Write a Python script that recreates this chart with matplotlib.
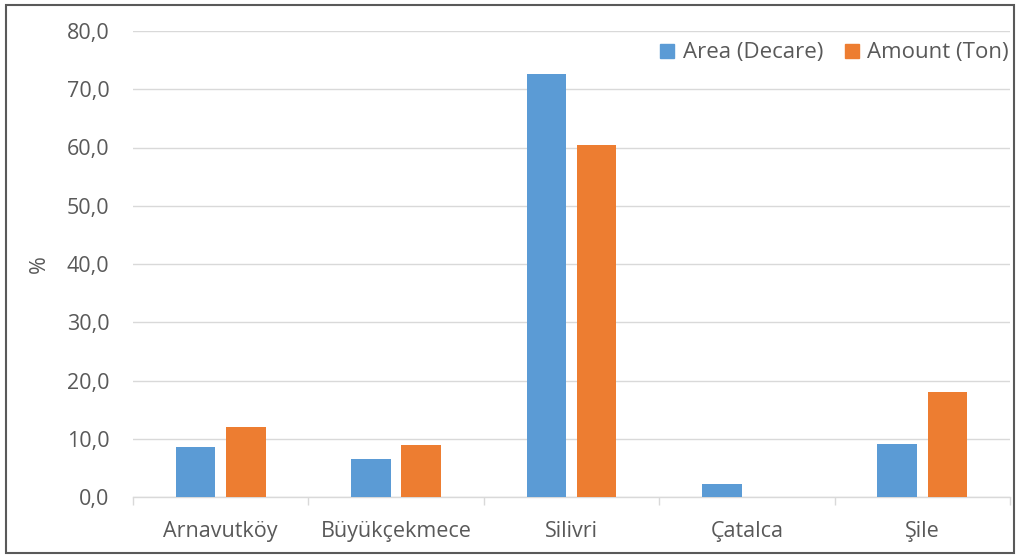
import matplotlib
matplotlib.use("Agg")
import matplotlib.pyplot as plt
import numpy as np
from matplotlib.patches import Rectangle, Patch

districts = ["Arnavutköy", "Büyükçekmece", "Silivri", "Çatalca", "Şile"]
area_pct = [8.6, 6.5, 72.7, 2.3, 9.1]
amount_pct = [12.1, 9.0, 60.5, 0.0, 18.0]
y_ticks = [0, 10, 20, 30, 40, 50, 60, 70, 80]

BLUE = "#5b9bd5"
ORANGE = "#ed7d31"
TEXT = "#595959"
GRID = "#d9d9d9"
FS = 15.5

plt.rcParams["font.family"] = ["Open Sans", "DejaVu Sans"]

fig = plt.figure(figsize=(10.2, 5.56), dpi=100)
ax = fig.add_axes([133 / 1020, 1 - 497 / 556, (1010 - 133) / 1020, (497 - 31) / 556])

x = np.arange(len(districts))
w = 0.225
off = 0.143
ax.bar(x - off, area_pct, width=w, color=BLUE, label="Area (Decare)", zorder=3)
ax.bar(x + off, amount_pct, width=w, color=ORANGE, label="Amount (Ton)", zorder=3)

ax.set_xlim(-0.5, len(districts) - 0.5)
ax.set_ylim(0, 80)
ax.set_yticks(y_ticks)
ax.set_yticklabels([f"{v:.1f}".replace(".", ",") for v in y_ticks])
ax.set_xticks(x)
ax.set_xticklabels(districts)
ax.set_xticks(np.arange(-0.5, len(districts)), minor=True)

ax.yaxis.grid(True, color=GRID, linewidth=1.0, zorder=0)
ax.set_axisbelow(True)
for s in ["top", "right", "left"]:
    ax.spines[s].set_visible(False)
ax.spines["bottom"].set_color(GRID)
ax.spines["bottom"].set_linewidth(1.0)

ax.tick_params(axis="y", length=0, pad=17, labelsize=FS, labelcolor=TEXT)
ax.tick_params(axis="x", which="major", length=0, pad=17, labelsize=FS, labelcolor=TEXT)
ax.tick_params(axis="x", which="minor", length=6, color=GRID, width=1.0)

ax.set_ylabel("%", fontsize=FS, color=TEXT, labelpad=12)

handles = [Patch(color=BLUE, label="Area (Decare)"), Patch(color=ORANGE, label="Amount (Ton)")]
ax.legend(handles=handles, loc="upper right", bbox_to_anchor=(1.004, 0.985), ncol=2,
          frameon=False, fontsize=16, labelcolor=TEXT, handlelength=0.6, handleheight=0.6,
          handletextpad=0.4, columnspacing=1.0, borderaxespad=0.0, borderpad=0.2)

fig.patches.append(Rectangle((6 / 1020, 3 / 556), 1008 / 1020, 548 / 556, transform=fig.transFigure,
                             fill=False, edgecolor="#595959", linewidth=1.5))

fig.savefig("out.png", dpi=100)
